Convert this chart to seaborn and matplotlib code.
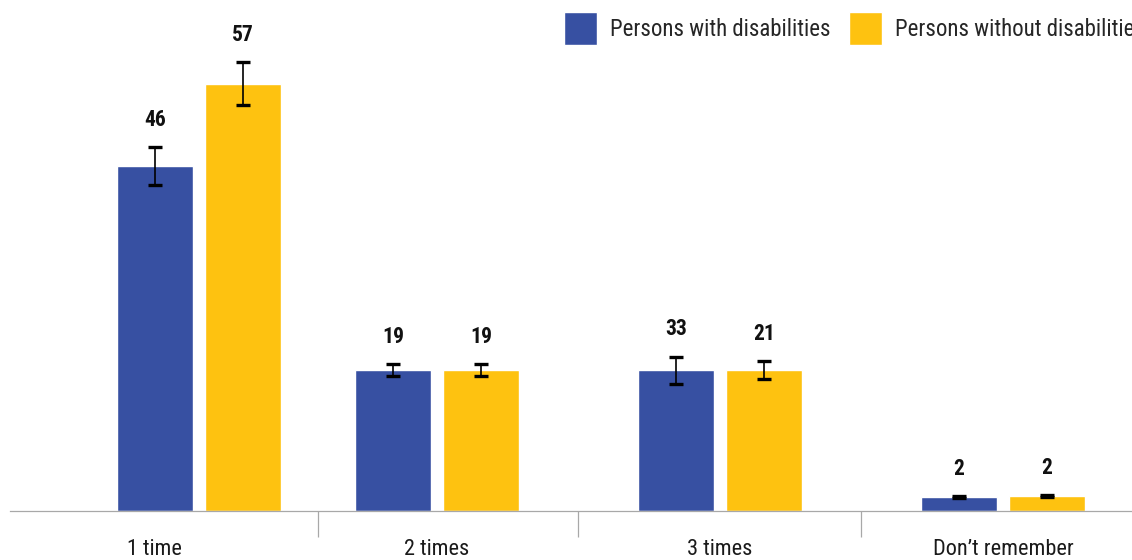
import numpy as np
import pandas as pd
import matplotlib
matplotlib.use("Agg")
import matplotlib.pyplot as plt
from matplotlib import font_manager as fm
import seaborn as sns

# ---- data ----
categories = ["1 time", "2 times", "3 times", "Don\u2019t remember"]
groups = ["Persons with disabilities", "Persons without disabilities"]
bar_with = [46, 18.8, 18.8, 1.9]        # bar heights as drawn
bar_without = [57, 18.8, 18.8, 2.0]
label_with = ["46", "19", "33", "2"]    # printed value labels
label_without = ["57", "19", "21", "2"]
err_with = [2.5, 0.8, 1.8, 0.1]
err_without = [2.9, 0.8, 1.2, 0.1]

# ---- layout ----
bar_pos = [0.16, 1, 2, 3]
label_pos = [0, 1, 2, 3]
BLUE = "#3750A2"
YELLOW = "#FEC210"
GRAY = "#A8A8A8"

sns.set_style("white")
avail = {f.name for f in fm.fontManager.ttflist}
pref = ["Roboto Condensed", "Archivo Narrow", "Fira Sans Condensed",
        "Barlow Semi Condensed", "Liberation Sans Narrow", "Roboto", "DejaVu Sans"]
fam = [f for f in pref if f in avail]
plt.rcParams["font.family"] = fam

df = pd.DataFrame({
    "pos": bar_pos * 2,
    "value": bar_with + bar_without,
    "group": [groups[0]] * 4 + [groups[1]] * 4,
})

W, H = 1132, 560
fig = plt.figure(figsize=(W / 100, H / 100), dpi=100)
ax = fig.add_axes([10 / W, 49 / H, 1122 / W, 511 / H])

sns.barplot(data=df, x="pos", y="value", hue="group", native_scale=True,
            palette=[BLUE, YELLOW], width=0.74, gap=0.136, errorbar=None,
            saturation=1, ax=ax)

ax.set_ylim(0, 511 / 7.5)
ax.set_xlim(-0.509, 3.456)

errs = [err_with, err_without]
labs = [label_with, label_without]
for cont, e, lab in zip(ax.containers, errs, labs):
    for bar, ee, ll in zip(cont, e, lab):
        xc = bar.get_x() + bar.get_width() / 2
        h = bar.get_height()
        ax.errorbar(xc, h, yerr=ee, fmt="none", ecolor="black", elinewidth=1.2,
                    capsize=5, capthick=2.4, clip_on=False)
        ax.annotate(ll, (xc, h + ee), xytext=(0, 19.5), textcoords="offset points",
                    ha="center", va="center", fontsize=15.5, fontweight="bold",
                    color="#111111")

for s in ["top", "right", "left"]:
    ax.spines[s].set_visible(False)
ax.spines["bottom"].set_color(GRAY)
ax.spines["bottom"].set_linewidth(0.9)
ax.set_yticks([])
ax.set_xticks(label_pos)
ax.set_xticklabels(categories, fontsize=16, color="#1a1a1a")
mids = [(bar_pos[i] + bar_pos[i + 1]) / 2 for i in range(len(bar_pos) - 1)]
ax.set_xticks(mids, minor=True)
ax.tick_params(axis="x", which="major", length=0, pad=20)
ax.tick_params(axis="x", which="minor", length=18.7, width=0.9, color=GRAY, direction="out", bottom=True)
ax.set_xlabel("")
ax.set_ylabel("")

h, l = ax.get_legend_handles_labels()
ax.legend(h, l, loc="upper left", bbox_to_anchor=(564 / W, 1 - 12 / H),
          bbox_transform=fig.transFigure, ncol=2, frameon=False, fontsize=16.5,
          handlelength=1.42, handleheight=1.82, handletextpad=0.6,
          columnspacing=0.8, borderpad=0, borderaxespad=0)

fig.savefig("out.png", dpi=100)
